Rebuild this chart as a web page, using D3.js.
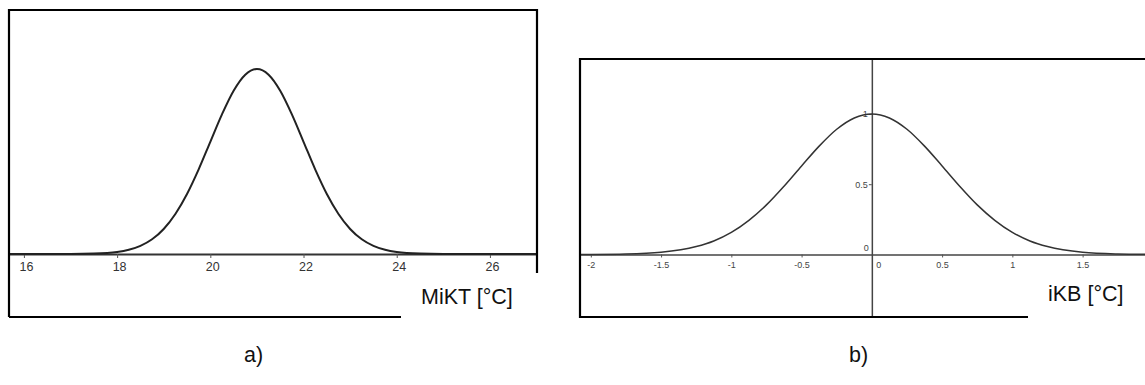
<!DOCTYPE html>
<html>
<head>
<meta charset="utf-8">
<script src="https://cdn.jsdelivr.net/npm/d3@7"></script>
<style>
  body { margin: 0; background: #fff; }
  svg { display: block; font-family: "Liberation Sans", Arial, sans-serif; }
</style>
</head>
<body>
<script>
// panel a) MiKT curve
const miktX = [15.68, 16, 17, 17.5, 18, 18.25, 18.5, 18.75, 19, 19.25, 19.5, 19.75, 20, 20.25, 20.5, 20.75,
  21, 21.25, 21.5, 21.75, 22, 22.25, 22.5, 22.75, 23, 23.25, 23.5, 23.75, 24, 24.5, 25, 26, 27.01];
const miktY = [0, 0, 0.0001, 0.0009, 0.0044, 0.0091, 0.0175, 0.0317, 0.054, 0.0863, 0.1295, 0.1826, 0.242, 0.3011, 0.3521, 0.3867,
  0.3989, 0.3867, 0.3521, 0.3011, 0.242, 0.1826, 0.1295, 0.0863, 0.054, 0.0317, 0.0175, 0.0091, 0.0044, 0.0009, 0.0001, 0, 0];
const miktTicks = [16, 18, 20, 22, 24, 26];

// panel b) iKB curve
const ikbX = [-2.077, -2, -1.75, -1.5, -1.25, -1.125, -1, -0.875, -0.75, -0.625, -0.5, -0.375, -0.25, -0.125,
  0, 0.125, 0.25, 0.375, 0.5, 0.625, 0.75, 0.875, 1, 1.125, 1.25, 1.5, 1.75, 1.944];
const ikbY = [0.0003, 0.0006, 0.0035, 0.0156, 0.056, 0.096, 0.157, 0.243, 0.353, 0.486, 0.63, 0.771, 0.891, 0.9715,
  1, 0.9715, 0.891, 0.771, 0.63, 0.486, 0.353, 0.243, 0.157, 0.096, 0.056, 0.0156, 0.0035, 0.0009];
const ikbXTicks = [-2, -1.5, -1, -0.5, 0.5, 1, 1.5];
const ikbYTicks = [0.5, 1];

const svg = d3.select("body").append("svg")
  .attr("width", 1145)
  .attr("height", 385);

svg.append("rect").attr("width", 1145).attr("height", 385).attr("fill", "#fff");

// ---------- panel a ----------
const xA = d3.scaleLinear().domain([15.68, 27.01]).range([9, 537]);
const yA = d3.scaleLinear().domain([0, 0.3989]).range([254, 69]);

const gA = svg.append("g");

// x axis
const axA = gA.append("g")
  .attr("transform", "translate(0,254)")
  .call(d3.axisBottom(xA).tickValues(miktTicks).tickSize(4).tickSizeOuter(0).tickFormat(d => String(d)));
axA.select(".domain").attr("stroke", "#333").attr("stroke-width", 2);
axA.selectAll(".tick line").attr("stroke", "#555").attr("stroke-width", 1);
axA.selectAll(".tick text")
  .attr("x", 2).attr("y", 8)
  .attr("font-size", 12.5).attr("fill", "#333")
  .attr("font-family", "Liberation Sans, Arial, sans-serif");

const lineA = d3.line().x((d, i) => xA(miktX[i])).y(d => yA(d)).curve(d3.curveMonotoneX);
gA.append("path")
  .datum(miktY)
  .attr("fill", "none")
  .attr("stroke", "#222")
  .attr("stroke-width", 2)
  .attr("d", lineA);

// frame (partly hidden by the label box)
gA.append("path")
  .attr("d", "M9,317V10H537V273 M9,317H401")
  .attr("fill", "none")
  .attr("stroke", "#000")
  .attr("stroke-width", 2.2);

gA.append("text")
  .attr("x", 421).attr("y", 304)
  .attr("font-size", 21.5).attr("fill", "#111")
  .text("MiKT [°C]");

// ---------- panel b ----------
const xB = d3.scaleLinear().domain([-2.077, 1.944]).range([580, 1145]);
const yB = d3.scaleLinear().domain([-0.445, 1.391]).range([317, 59]);

const gB = svg.append("g");

const axBx = gB.append("g")
  .attr("transform", `translate(0,${yB(0)})`)
  .call(d3.axisBottom(xB).tickValues(ikbXTicks).tickSize(3).tickSizeOuter(0).tickFormat(d => String(d)));
axBx.select(".domain").attr("stroke", "#444").attr("stroke-width", 1.5);
axBx.selectAll(".tick line").attr("stroke", "#555");
axBx.selectAll(".tick text")
  .attr("y", 7).attr("font-size", 9).attr("fill", "#444")
  .attr("font-family", "Liberation Sans, Arial, sans-serif");

const axBy = gB.append("g")
  .attr("transform", `translate(${xB(0)},0)`)
  .call(d3.axisLeft(yB).tickValues(ikbYTicks).tickSize(3).tickSizeOuter(0).tickFormat(d => String(d)));
axBy.select(".domain").attr("stroke", "#444").attr("stroke-width", 1.5);
axBy.selectAll(".tick line").attr("stroke", "#555");
axBy.selectAll(".tick text")
  .attr("x", -4).attr("font-size", 9).attr("fill", "#444")
  .attr("font-family", "Liberation Sans, Arial, sans-serif");

// origin labels
gB.append("text")
  .attr("x", xB(0) - 3).attr("y", yB(0) - 3)
  .attr("text-anchor", "end").attr("font-size", 9).attr("fill", "#444")
  .text("0");
gB.append("text")
  .attr("x", xB(0) + 7).attr("y", yB(0) + 14)
  .attr("text-anchor", "middle").attr("font-size", 9).attr("fill", "#444")
  .text("0");

const lineB = d3.line().x((d, i) => xB(ikbX[i])).y(d => yB(d)).curve(d3.curveMonotoneX);
gB.append("path")
  .datum(ikbY)
  .attr("fill", "none")
  .attr("stroke", "#333")
  .attr("stroke-width", 1.5)
  .attr("d", lineB);

gB.append("path")
  .attr("d", "M1145,59H580V317H1028")
  .attr("fill", "none")
  .attr("stroke", "#000")
  .attr("stroke-width", 2.2);

gB.append("text")
  .attr("x", 1048).attr("y", 301)
  .attr("font-size", 21.5).attr("fill", "#111")
  .text("iKB [°C]");

// panel captions
svg.append("text")
  .attr("x", 244).attr("y", 362)
  .attr("font-size", 21.5).attr("fill", "#111")
  .text("a)");
svg.append("text")
  .attr("x", 849).attr("y", 362)
  .attr("font-size", 21.5).attr("fill", "#111")
  .text("b)");
</script>
</body>
</html>
